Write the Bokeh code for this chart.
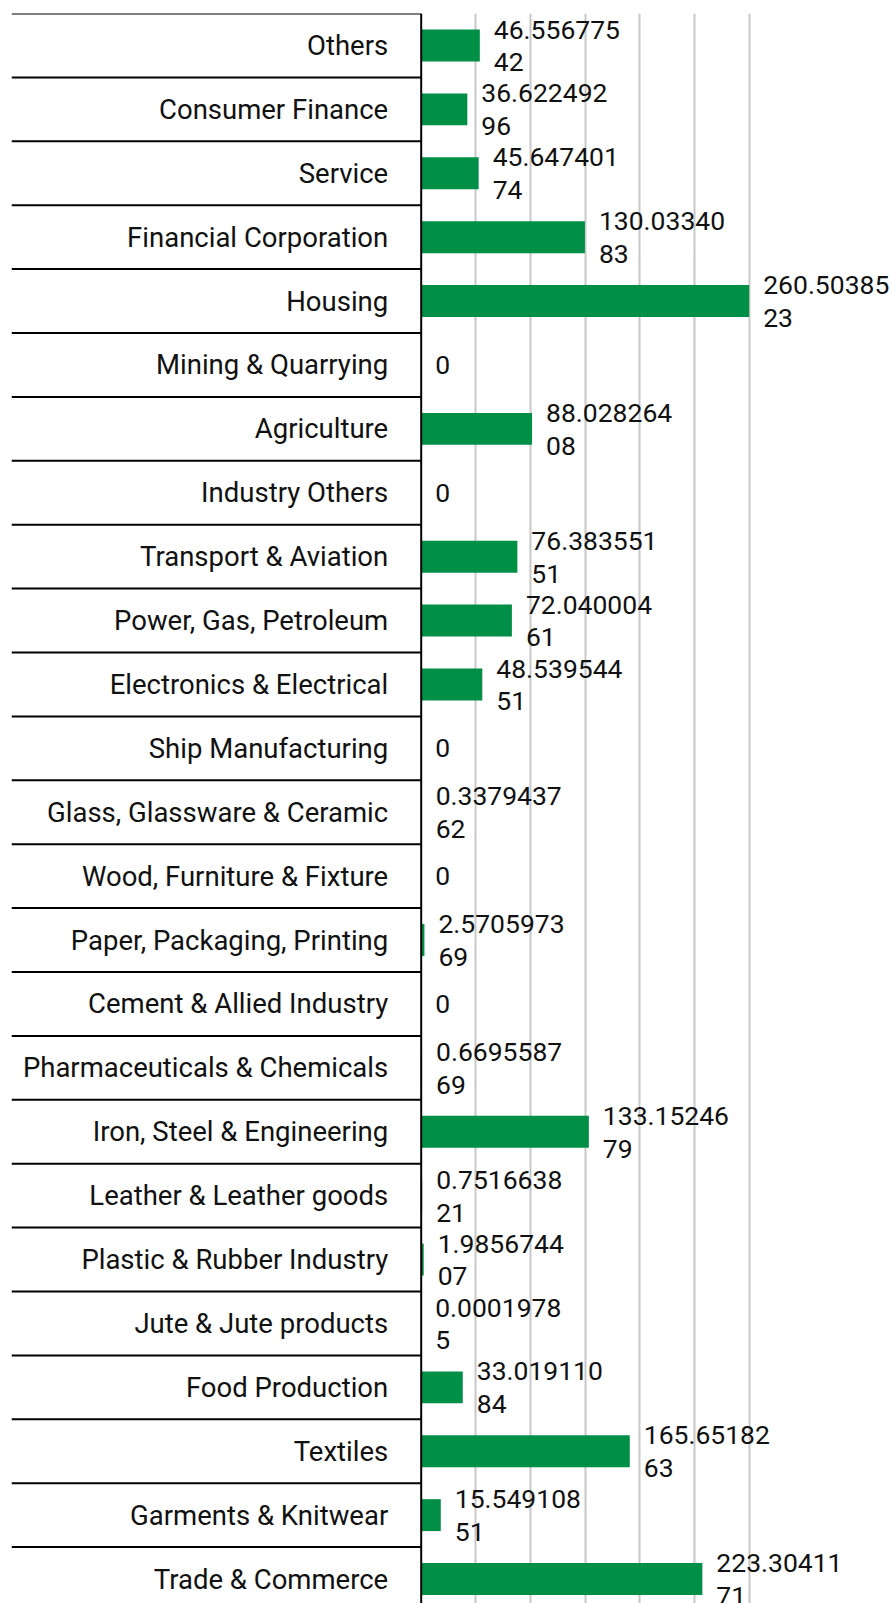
from bokeh.plotting import figure
from bokeh.models import ColumnDataSource, FixedTicker, Grid, Range1d
from bokeh.core.properties import value
from bokeh.embed import file_html
from bokeh.resources import INLINE

# Data (top to bottom as shown)
categories = [
    "Others", "Consumer Finance", "Service", "Financial Corporation", "Housing",
    "Mining & Quarrying", "Agriculture", "Industry Others", "Transport & Aviation",
    "Power, Gas, Petroleum", "Electronics & Electrical", "Ship Manufacturing",
    "Glass, Glassware & Ceramic", "Wood, Furniture & Fixture", "Paper, Packaging, Printing",
    "Cement & Allied Industry", "Pharmaceuticals & Chemicals", "Iron, Steel & Engineering",
    "Leather & Leather goods", "Plastic & Rubber Industry", "Jute & Jute products",
    "Food Production", "Textiles", "Garments & Knitwear", "Trade & Commerce",
]
values = [
    46.55677542, 36.62249296, 45.64740174, 130.0334083, 260.5038523,
    0, 88.02826408, 0, 76.38355151,
    72.04000461, 48.53954451, 0,
    0.337943762, 0, 2.570597369,
    0, 0.669558769, 133.1524679,
    0.751663821, 1.985674407, 0.00019785,
    33.01911084, 165.6518263, 15.54910851, 223.3041171,
]

FONT = "Roboto"
W, H = 889, 1603
FRAME_LEFT, TOP = 11, 13        # frame edges in figure pixels
ZERO_PX = 420.7                 # figure x of the value axis
ROW_PX = 63.9
BAR_PX_AT_MAX = 328.0

n = len(categories)
centers = [n - i - 0.5 for i in range(n)]
boundaries = list(range(0, n + 1))


def fmt(v):
    s = "0" if v == 0 else str(v)
    return s if len(s) <= 9 else s[:9] + "\n" + s[9:]


labels = [fmt(v) for v in values]
vmax = max(values)
k = BAR_PX_AT_MAX / vmax
x_start = -(ZERO_PX - FRAME_LEFT) / k
x_end = (W - ZERO_PX) / k
frame_h = H - TOP
y_start = n - frame_h / ROW_PX

src = ColumnDataSource(dict(y=centers, v=values, lab=labels,
                            zero=[0] * n, cat=categories))
sep = ColumnDataSource(dict(y=boundaries, x0=[x_start] * len(boundaries),
                            x1=[0] * len(boundaries)))

p = figure(width=W, height=H, output_backend="svg", toolbar_location=None,
           x_range=Range1d(x_start, x_end), y_range=Range1d(y_start, n),
           x_axis_location=None, y_axis_location=None,
           min_border_left=FRAME_LEFT, min_border_top=TOP, min_border_bottom=0,
           min_border_right=0)
p.outline_line_color = None
p.background_fill_color = "white"
p.border_fill_color = "white"
p.grid.visible = False

# vertical gridlines: six equal steps up to the maximum
grid_ticks = [vmax * j / 6 for j in range(1, 7)]
p.add_layout(Grid(dimension=0, ticker=FixedTicker(ticks=grid_ticks),
                  grid_line_color="#c8c8c8", grid_line_width=2))

# row separators on the category side
p.segment(x0="x0", x1="x1", y0="y", y1="y", source=sep,
          line_color="black", line_width=2)

# category labels
p.text(x="zero", y="y", text="cat", source=src, x_offset=-33,
       text_align="right", text_baseline="middle",
       text_font=value(FONT), text_font_size="27.5px", text_color="#111111")

p.hbar(y="y", left=0, right="v", height=0.5, source=src,
       fill_color="#008f47", line_color=None)

# value axis line
p.segment(x0=[0], x1=[0], y0=[y_start], y1=[n], line_color="black", line_width=2)

p.text(x="v", y="y", text="lab", source=src, x_offset=14,
       text_align="left", text_baseline="middle",
       text_font=value(FONT), text_font_size="26.5px",
       text_line_height=1.06, text_color="#111111")

open("out.html", "w").write(file_html(p, INLINE))
